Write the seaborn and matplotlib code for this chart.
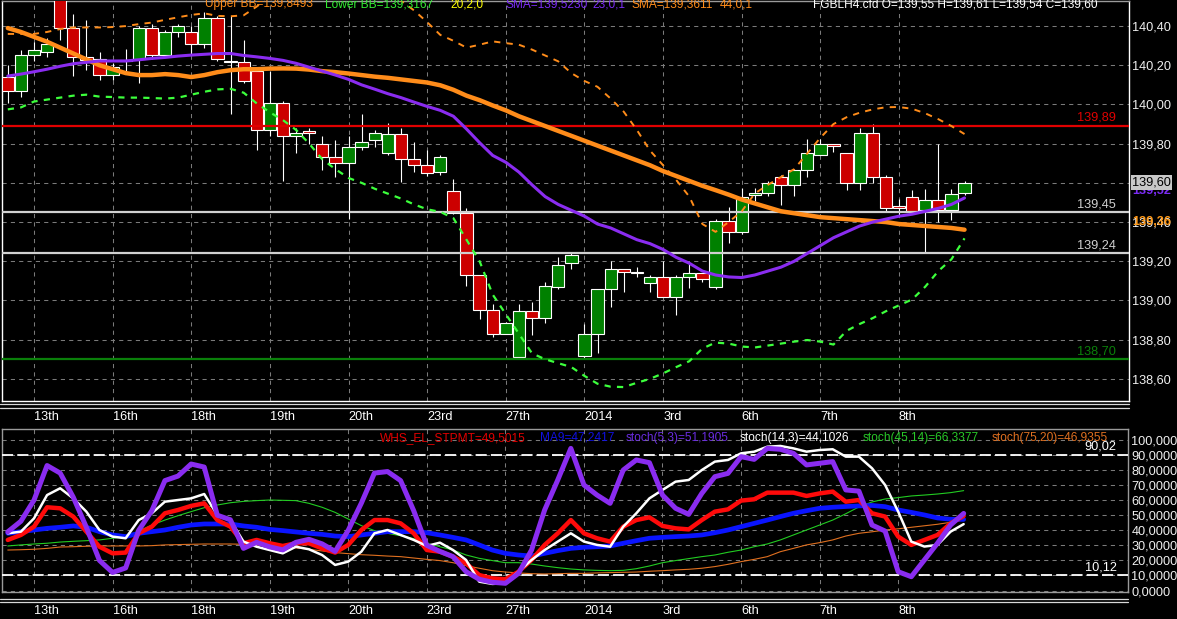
import numpy as np
import pandas as pd
import matplotlib
matplotlib.use("Agg")
import matplotlib.pyplot as plt
import seaborn as sns
from matplotlib.lines import Line2D

# FGBLH4 4h candles
opens = [140.14, 140.07, 140.252, 140.27, 140.56, 140.388, 140.24, 140.23, 140.148, 140.228,
         140.23, 140.388, 140.252, 140.368, 140.368, 140.308, 140.44, 140.222, 140.218, 140.17,
         139.87, 140.01, 139.839, 139.866, 139.796, 139.73, 139.70, 139.784, 139.818, 139.75,
         139.847, 139.72, 139.689, 139.658, 139.558, 139.444, 139.13, 138.95, 138.83, 138.709,
         138.948, 138.908, 139.067, 139.189, 138.718, 138.827, 139.056, 139.158, 139.146, 139.087,
         139.118, 139.016, 139.118, 139.138, 139.067, 139.407, 139.347, 139.536, 139.546, 139.628,
         139.589, 139.668, 139.742, 139.798, 139.75, 139.597, 139.857, 139.628, 139.48, 139.526,
         139.461, 139.515, 139.461, 139.55]
highs = [140.20, 140.28, 140.32, 140.34, 140.60, 140.46, 140.43, 140.27, 140.21, 140.285,
         140.40, 140.41, 140.38, 140.41, 140.40, 140.47, 140.45, 140.45, 140.33, 140.17,
         140.17, 140.02, 139.878, 139.878, 139.839, 139.818, 139.839, 139.95, 139.87, 139.908,
         139.878, 139.81, 139.77, 139.742, 139.62, 139.47, 139.13, 138.98, 138.89, 138.98,
         138.993, 139.096, 139.223, 139.24, 138.88, 139.06, 139.20, 139.16, 139.172, 139.13,
         139.20, 139.13, 139.197, 139.14, 139.418, 139.478, 139.572, 139.576, 139.61, 139.64,
         139.67, 139.826, 139.826, 139.80, 139.75, 139.878, 139.90, 139.64, 139.52, 139.563,
         139.567, 139.80, 139.567, 139.61]
lows = [140.005, 140.04, 140.22, 140.24, 140.33, 140.145, 140.175, 140.125, 140.125, 140.17,
        140.11, 140.23, 140.24, 140.345, 140.25, 140.29, 140.22, 139.95, 140.11, 139.77,
        139.84, 139.61, 139.75, 139.80, 139.665, 139.628, 139.418, 139.77, 139.784, 139.74,
        139.606, 139.657, 139.635, 139.64, 139.44, 139.075, 138.905, 138.815, 138.83, 138.70,
        138.823, 138.886, 139.06, 139.163, 138.70, 138.73, 138.968, 139.045, 139.12, 139.045,
        139.016, 138.925, 139.065, 139.095, 139.06, 139.295, 139.34, 139.51, 139.532, 139.486,
        139.532, 139.628, 139.742, 139.76, 139.563, 139.563, 139.60, 139.45, 139.43, 139.44,
        139.249, 139.40, 139.413, 139.54]
closes = [140.07, 140.252, 140.278, 140.308, 140.39, 140.24, 140.226, 140.148, 140.19, 140.222,
          140.388, 140.252, 140.368, 140.40, 140.308, 140.44, 140.23, 140.218, 140.12, 139.87,
          140.01, 139.84, 139.857, 139.857, 139.73, 139.70, 139.784, 139.806, 139.857, 139.847,
          139.72, 139.689, 139.648, 139.73, 139.447, 139.13, 138.95, 138.83, 138.886, 138.948,
          138.908, 139.075, 139.18, 139.232, 138.827, 139.056, 139.158, 139.146, 139.138, 139.118,
          139.016, 139.118, 139.138, 139.107, 139.407, 139.347, 139.526, 139.546, 139.597, 139.589,
          139.668, 139.75, 139.798, 139.788, 139.597, 139.857, 139.628, 139.47, 139.47, 139.452,
          139.515, 139.461, 139.543, 139.60]

sma44 = [140.39, 140.37, 140.345, 140.32, 140.29, 140.26, 140.23, 140.20, 140.18, 140.16,
         140.15, 140.15, 140.155, 140.15, 140.14, 140.15, 140.165, 140.175, 140.18, 140.18,
         140.183, 140.184, 140.183, 140.178, 140.17, 140.165, 140.158, 140.15, 140.142, 140.136,
         140.128, 140.12, 140.112, 140.098, 140.075, 140.045, 140.022, 139.995, 139.97, 139.94,
         139.915, 139.89, 139.865, 139.84, 139.815, 139.79, 139.765, 139.74, 139.715, 139.69,
         139.66, 139.635, 139.61, 139.585, 139.563, 139.54, 139.515, 139.495, 139.475, 139.455,
         139.445, 139.435, 139.425, 139.42, 139.415, 139.41, 139.405, 139.40, 139.39, 139.385,
         139.38, 139.375, 139.37, 139.361]
sma23 = [140.145, 140.155, 140.167, 140.18, 140.195, 140.208, 140.215, 140.222, 140.222, 140.222,
         140.228, 140.235, 140.24, 140.247, 140.252, 140.256, 140.26, 140.26, 140.25, 140.243,
         140.235, 140.225, 140.21, 140.19, 140.17, 140.15, 140.128, 140.10, 140.078, 140.055,
         140.035, 140.012, 139.99, 139.97, 139.94, 139.875, 139.805, 139.74, 139.705, 139.655,
         139.59, 139.53, 139.49, 139.46, 139.43, 139.39, 139.37, 139.34, 139.31, 139.29,
         139.26, 139.22, 139.19, 139.15, 139.13, 139.12, 139.117, 139.13, 139.15, 139.17,
         139.20, 139.24, 139.28, 139.32, 139.35, 139.38, 139.40, 139.415, 139.43, 139.44,
         139.455, 139.47, 139.49, 139.523]
bb_upper = [140.36, 140.36, 140.36, 140.37, 140.385, 140.393, 140.393, 140.393, 140.395, 140.40,
            140.41, 140.418, 140.432, 140.445, 140.457, 140.465, 140.452, 140.45, 140.455, 140.50,
            140.55, 140.59, 140.62, 140.64, 140.65, 140.65, 140.64, 140.62, 140.60, 140.58,
            140.53, 140.48, 140.42, 140.355, 140.325, 140.29, 140.305, 140.322, 140.313, 140.305,
            140.28, 140.25, 140.22, 140.16, 140.12, 140.09, 140.03, 139.963, 139.87, 139.765,
            139.69, 139.615, 139.53, 139.39, 139.35, 139.40, 139.455, 139.546, 139.59, 139.63,
            139.67, 139.75, 139.83, 139.90, 139.935, 139.958, 139.975, 139.986, 139.987, 139.978,
            139.955, 139.925, 139.89, 139.849]
bb_lower = [139.975, 139.985, 140.015, 140.025, 140.035, 140.045, 140.05, 140.04, 140.038, 140.035,
            140.035, 140.033, 140.03, 140.035, 140.05, 140.065, 140.077, 140.08, 140.06, 140.005,
            139.96, 139.92, 139.87, 139.80, 139.72, 139.67, 139.625, 139.60, 139.57, 139.545,
            139.52, 139.49, 139.465, 139.452, 139.42, 139.31, 139.20, 139.03, 138.93, 138.83,
            138.73, 138.70, 138.68, 138.66, 138.615, 138.575, 138.56, 138.558, 138.58, 138.60,
            138.628, 138.66, 138.69, 138.755, 138.785, 138.78, 138.765, 138.76, 138.77, 138.78,
            138.79, 138.798, 138.79, 138.775, 138.845, 138.88, 138.91, 138.945, 138.975, 139.005,
            139.07, 139.15, 139.21, 139.317]

# oscillator panel
stpmt = [33.6, 36.9, 42.4, 55.3, 54.6, 49.1, 39.1, 29.1, 24.7, 25.2,
         38.0, 42.4, 51.3, 53.5, 56.2, 57.9, 46.8, 42.4, 31.4, 33.6,
         31.4, 29.6, 31.4, 31.4, 28.0, 25.2, 30.3, 40.2, 46.8, 46.8,
         44.6, 38.0, 26.9, 25.8, 22.5, 18.1, 10.3, 8.1, 7.5, 12.5,
         20.3, 30.3, 38.0, 46.8, 38.0, 34.7, 32.5, 42.4, 46.8, 48.6,
         42.9, 41.3, 40.6, 46.8, 52.4, 53.9, 59.7, 60.6, 65.0, 65.0,
         65.0, 62.8, 64.5, 65.7, 59.0, 60.1, 51.3, 49.1, 35.8, 30.3,
         33.6, 36.9, 44.6, 49.5]
ma9 = [38.0, 39.1, 40.2, 41.3, 42.0, 42.9, 42.0, 39.1, 36.9, 35.8,
       38.0, 39.1, 40.2, 42.0, 43.5, 44.2, 44.2, 44.2, 42.9, 42.0,
       40.6, 39.8, 38.9, 38.0, 37.3, 36.2, 35.8, 36.9, 38.0, 39.1,
       39.1, 39.1, 38.4, 36.9, 35.3, 33.6, 30.3, 26.9, 24.7, 23.6,
       22.9, 24.7, 26.5, 28.0, 28.7, 29.1, 29.6, 31.4, 33.1, 34.7,
       35.3, 35.8, 36.2, 36.9, 38.4, 40.2, 42.4, 44.6, 46.8, 49.1,
       51.3, 53.0, 54.6, 55.3, 55.8, 56.2, 56.5, 55.7, 53.5, 51.9,
       50.2, 48.2, 47.3, 47.24]
stoch_5_3 = [39, 46, 60, 83, 78, 62, 42, 20, 12, 15,
             40, 53, 73, 76, 84, 82, 50, 47, 28, 32,
             29, 27, 32, 34, 31, 26, 40, 58, 78, 79,
             73, 53, 30, 26, 22.5, 12.5, 7.5, 5.5, 4.8, 11.4,
             26.9, 53.5, 73.4, 94.4, 70.1, 63.4, 57.9, 80.0, 86.7, 84.9,
             63.4, 54.6, 50.6, 64.5, 75.6, 77.8, 88.9, 87.1, 94.4, 93.8,
             91.1, 83.4, 84.5, 85.6, 66.8, 66.0, 43.5, 39.5, 12.5, 9.2,
             20.3, 31.4, 43.5, 51.19]
stoch_14_3 = [38.0, 39.1, 47.9, 63.4, 67.9, 61.2, 52.4, 40.2, 35.8, 34.7,
              46.8, 51.3, 59.0, 60.1, 61.2, 64.1, 50.2, 46.8, 32.5, 29.1,
              26.9, 24.7, 29.1, 27.4, 23.6, 17.0, 19.2, 25.8, 38.0, 40.2,
              36.9, 33.6, 29.6, 31.8, 26.9, 20.3, 5.9, 4.4, 4.8, 12.5,
              20.3, 26.9, 32.5, 38.0, 32.5, 30.3, 29.1, 42.4, 51.3, 61.2,
              66.8, 72.3, 73.4, 80.0, 85.6, 86.7, 91.1, 92.2, 95.5, 96.0,
              94.4, 92.2, 93.3, 93.8, 88.9, 88.9, 81.2, 70.1, 52.4, 32.5,
              29.2, 30.3, 39.1, 44.10]
stoch_45_14 = [29.6, 30.3, 30.9, 31.4, 32.2, 32.7, 33.1, 33.6, 34.7, 35.8,
               39.5, 43.5, 46.8, 49.7, 52.4, 55.0, 56.8, 58.3, 59.2, 59.7,
               60.1, 59.9, 59.7, 57.9, 55.3, 51.9, 47.5, 43.1, 39.8, 38.0,
               36.4, 34.5, 31.4, 29.1, 26.9, 23.6, 21.4, 19.9, 18.5, 18.5,
               17.6, 16.3, 15.2, 14.3, 13.7, 13.4, 13.2, 13.4, 14.5, 16.3,
               18.5, 19.9, 21.2, 22.5, 23.6, 25.4, 26.9, 29.1, 30.9, 33.6,
               36.9, 40.2, 43.5, 46.8, 51.0, 55.5, 58.8, 60.8, 61.7, 62.8,
               63.4, 64.1, 65.0, 66.34]
stoch_75_20 = [26.9, 27.1, 27.4, 28.0, 28.9, 29.1, 29.4, 29.6, 29.6, 29.6,
               29.6, 29.8, 30.3, 30.5, 30.7, 30.9, 30.9, 30.9, 30.7, 30.3,
               29.6, 28.9, 28.3, 27.4, 26.3, 25.2, 24.5, 23.8, 23.4, 22.9,
               22.5, 21.6, 20.7, 19.9, 18.5, 16.5, 14.8, 13.2, 12.3, 11.7,
               11.2, 11.0, 11.2, 11.4, 11.4, 11.7, 11.9, 12.1, 12.3, 12.8,
               13.2, 13.7, 14.1, 14.8, 15.9, 17.4, 19.2, 20.7, 22.5, 25.8,
               28.0, 30.3, 31.8, 33.6, 36.2, 38.0, 39.0, 40.2, 41.0, 42.0,
               43.0, 44.0, 45.3, 46.94]

day_start = [2, 8, 14, 20, 26, 32, 38, 44, 50, 56, 62, 68]
day_labels = ["13th", "16th", "18th", "19th", "20th", "23rd", "27th", "2014", "3rd", "6th", "7th", "8th"]

price_ticks = [138.6, 138.8, 139.0, 139.2, 139.4, 139.6, 139.8, 140.0, 140.2, 140.4]
price_labels = ["138,60", "138,80", "139,00", "139,20", "139,40", "139,60", "139,80", "140,00", "140,20", "140,40"]
osc_ticks = [0, 10, 20, 30, 40, 50, 60, 70, 80, 90, 100]
osc_labels = ["0,0000", "10,0000", "20,0000", "30,0000", "40,0000", "50,0000",
              "60,0000", "70,0000", "80,0000", "90,0000", "100,0000"]

levels = [139.89, 139.45, 139.24, 138.70]
level_labels = ["139,89", "139,45", "139,24", "138,70"]
level_colors = ["#e00000", "#d0d0d0", "#d0d0d0", "#0a800a"]

osc_bands = [90.02, 10.12]
osc_band_labels = ["90,02", "10,12"]

upper_legend = ["Upper BB=139,8493", "Lower BB=139,3167", "20,2,0", "SMA=139,5230", "23,0,1",
                "SMA=139,3611", "44,0,1", "FGBLH4.cfd O=139,55 H=139,61 L=139,54 C=139,60"]
upper_legend_colors = ["#ff8c1a", "#33ee33", "#ffff00", "#7b2cf5", "#7b2cf5", "#ff8c1a", "#ff8c1a", "white"]
upper_legend_px = [205, 325, 450, 505, 592, 632, 720, 813]

lower_legend = ["WHS_EL_STPMT=49,5015", "MA9=47,2417", "stoch(5,3)=51,1905", "stoch(14,3)=44,1026",
                "stoch(45,14)=66,3377", "stoch(75,20)=46,9355"]
lower_legend_colors = ["#e00000", "#1010e0", "#6a2ce0", "white", "#28c828", "#e07020"]
lower_legend_px = [380, 540, 626, 740, 863, 992]

sns.set_style("dark")
plt.rcParams["font.family"] = ["Liberation Sans", "DejaVu Sans"]
plt.rcParams["lines.scale_dashes"] = False
FS = 9.2
FS_LEG = 8.6

W, H = 1177, 619
fig = plt.figure(figsize=(W / 100, H / 100), dpi=100, facecolor="black")


def px_box(l, t, r, b):
    return [l / W, 1 - b / H, (r - l) / W, (b - t) / H]


ax = fig.add_axes(px_box(1.5, 1, 1129, 401))
ax2 = fig.add_axes(px_box(1.5, 429, 1128, 592))

idx = np.arange(len(opens))
price = pd.DataFrame({"i": idx, "open": opens, "high": highs, "low": lows, "close": closes,
                      "sma44": sma44, "sma23": sma23, "bb_up": bb_upper, "bb_low": bb_lower})
osc = pd.DataFrame({"i": idx, "stpmt": stpmt, "ma9": ma9, "s5": stoch_5_3, "s14": stoch_14_3,
                    "s45": stoch_45_14, "s75": stoch_75_20})

# candles
up = price["close"] >= price["open"]
body_lo = price[["open", "close"]].min(axis=1)
body_h = (price["close"] - price["open"]).abs().clip(lower=0.004)
ax.vlines(price["i"], price["low"], price["high"], color="white", lw=0.8, zorder=2)
ax.bar(price["i"], body_h, bottom=body_lo, width=0.94, color=np.where(up, "#008000", "#cc0000"),
       edgecolor="white", linewidth=0.8, zorder=3)

for lv, lab, col in zip(levels, level_labels, level_colors):
    ax.axhline(lv, color=col, lw=1.6, zorder=4)
    ax.annotate(lab, xy=(0.9885, lv), xycoords=ax.get_yaxis_transform(), xytext=(0, 1.5),
                textcoords="offset points", ha="right", va="bottom", color=col, fontsize=FS)

sns.lineplot(data=price, x="i", y="bb_up", ax=ax, color="#ff8c1a", lw=1.4, linestyle=(0, (4.5, 4.5)), zorder=5)
sns.lineplot(data=price, x="i", y="bb_low", ax=ax, color="#3cff3c", lw=1.6, linestyle=(0, (4.5, 4.5)), zorder=5)
sns.lineplot(data=price, x="i", y="sma44", ax=ax, color="#ff8c1a", lw=3.2, zorder=6)
sns.lineplot(data=price, x="i", y="sma23", ax=ax, color="#8a2cf0", lw=2.2, zorder=7)

# oscillators
for lv, lab in zip(osc_bands, osc_band_labels):
    ax2.axhline(lv, color="white", lw=1.3, linestyle=(0, (8, 3)), zorder=3)
    ax2.annotate(lab, xy=(0.990, lv), xycoords=ax2.get_yaxis_transform(), xytext=(0, 1.5),
                 textcoords="offset points", ha="right", va="bottom", color="white", fontsize=FS)

osc_style = [("s75", "#e07020", 0.8), ("s45", "#22cc22", 0.8), ("ma9", "#0a14ff", 3.4),
             ("stpmt", "#ff0a0a", 3.2), ("s14", "white", 1.8), ("s5", "#8a2cf0", 3.6)]
for z, (col, c, lw) in enumerate(osc_style):
    sns.lineplot(data=osc, x="i", y=col, ax=ax2, color=c, lw=lw, zorder=4 + z)

grid_kw = dict(color="#7a7a7a", linestyle=(0, (3, 3)), linewidth=0.75)
for a, pad in ((ax, 7.2), (ax2, 9.4)):
    a.set_facecolor("black")
    a.set_xlim(-0.48, 85.55)
    a.set_xticks(day_start)
    a.set_xticklabels(day_labels, ha="left")
    a.grid(True, **grid_kw)
    a.set_axisbelow(True)
    a.yaxis.tick_right()
    a.tick_params(axis="x", length=0, pad=pad, labelcolor="white", labelsize=FS)
    a.tick_params(axis="y", length=0, pad=2.4, labelcolor="#f0f0f0", labelsize=FS)
    a.set_xlabel("")
    a.set_ylabel("")

ax.set_ylim(138.487, 140.528)
ax.set_yticks(price_ticks)
ax.set_yticklabels(price_labels)
ax2.set_ylim(-0.97, 107.26)
ax2.set_yticks(osc_ticks)
ax2.set_yticklabels(osc_labels)

for name, sp in ax.spines.items():
    sp.set_visible(True)
    sp.set_linewidth(1)
    sp.set_color("#9a9a9a" if name == "top" else "white")
for sp in ax2.spines.values():
    sp.set_visible(True)
    sp.set_linewidth(1)
    sp.set_color("#9a9a9a")

# value tags on the price scale
yt = ax.get_yaxis_transform()
ax.annotate("139,52", xy=(1, sma23[-1]), xycoords=yt, xytext=(2.2, 5), textcoords="offset points",
            ha="left", va="center", color="#7b2cf5", fontsize=FS, fontweight="bold", annotation_clip=False)
ax.annotate("139,60", xy=(1, closes[-1]), xycoords=yt, xytext=(2.2, 0), textcoords="offset points",
            ha="left", va="center", color="black", fontsize=FS, annotation_clip=False,
            bbox=dict(boxstyle="square,pad=0.12", fc="#c8c8c8", ec="none"))
ax.annotate("139,36", xy=(1, sma44[-1]), xycoords=yt, xytext=(2.2, 5.5), textcoords="offset points",
            ha="left", va="center", color="#ff9a1a", fontsize=FS, fontweight="bold", annotation_clip=False)

for s, c, x in zip(upper_legend, upper_legend_colors, upper_legend_px):
    fig.text(x / W, 1 - 7.5 / H, s, color=c, fontsize=FS_LEG, va="baseline", ha="left")
for s, c, x in zip(lower_legend, lower_legend_colors, lower_legend_px):
    fig.text(x / W, 1 - 441 / H, s, color=c, fontsize=FS_LEG, va="baseline", ha="left")

# double separators under each panel
for py, right in ((404.3, 1129), (408.3, 1129), (598.5, 1128), (602, 1128)):
    fig.add_artist(Line2D([0, right / W], [1 - py / H] * 2, color="#d8d8d8", lw=0.9))

fig.savefig("out.png", dpi=100, facecolor="black")
